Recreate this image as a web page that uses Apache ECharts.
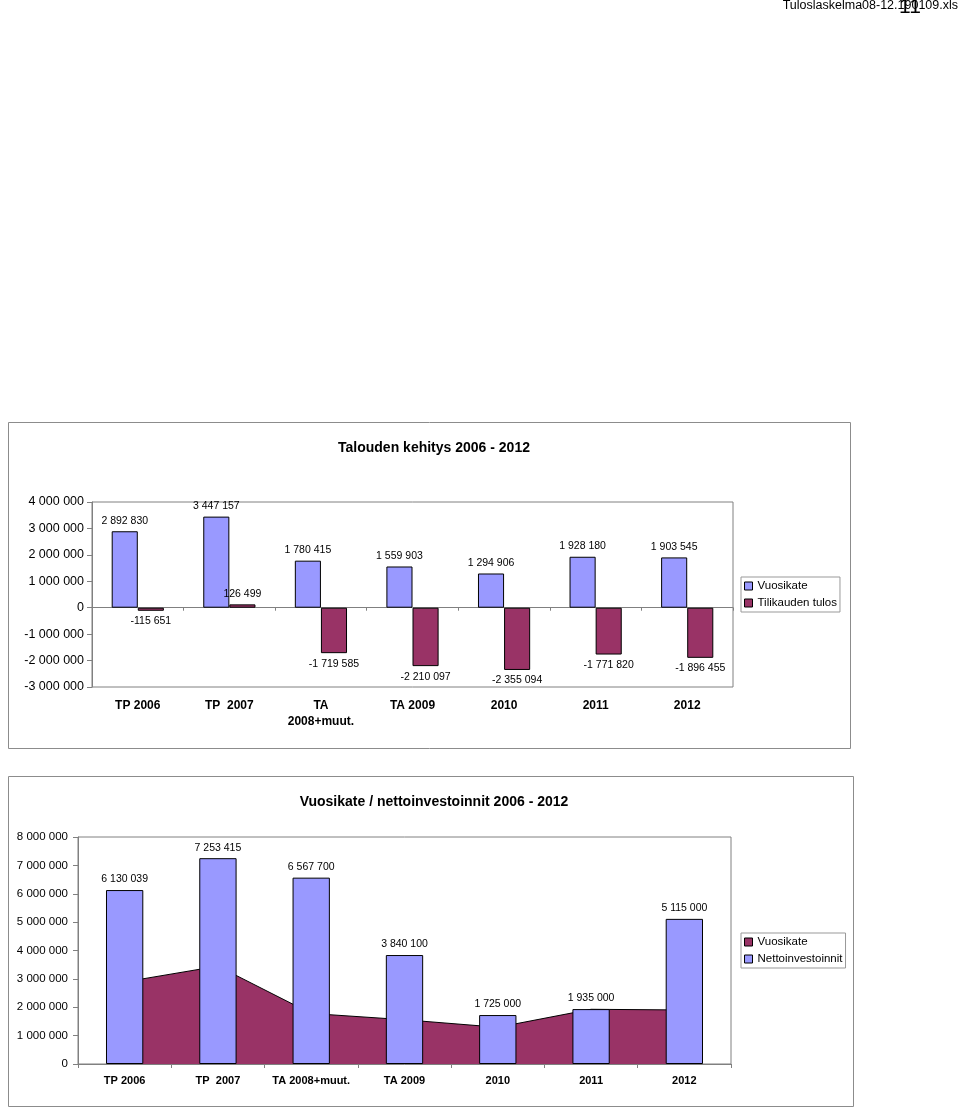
<!DOCTYPE html>
<html><head><meta charset="utf-8">
<script src="https://cdn.jsdelivr.net/npm/echarts@6/dist/echarts.min.js"></script>
<style>html,body{margin:0;padding:0;background:#fff}#c{width:960px;height:1110px}</style>
</head><body><div id="c"></div><script>
const categoriesTop = ['TP 2006', 'TP  2007', 'TA\n2008+muut.', 'TA 2009', '2010', '2011', '2012'];
const categoriesBottom = ['TP 2006', 'TP  2007', 'TA 2008+muut.', 'TA 2009', '2010', '2011', '2012'];
const vuosikate = [2892830, 3447157, 1780415, 1559903, 1294906, 1928180, 1903545];
const tilikaudenTulos = [-115651, 126499, -1719585, -2210097, -2355094, -1771820, -1896455];
const nettoinvestoinnit = [6130039, 7253415, 6567700, 3840100, 1725000, 1935000, 5115000];
const titleTop = 'Talouden kehitys 2006 - 2012';
const titleBottom = 'Vuosikate / nettoinvestoinnit 2006 - 2012';

const FONT = '"Liberation Sans", Arial, sans-serif';
const BLUE = '#9999FF', RED = '#993366', GREY = '#808080';
function fmt(v) {
  const s = Math.abs(Math.round(v)).toString().replace(/\B(?=(\d{3})+(?!\d))/g, ' ');
  return (v < 0 ? '-' : '') + s;
}
const labelBase = { show: true, color: '#000', fontFamily: FONT, fontSize: 10.5, distance: 5, formatter: p => fmt(p.value) };
const legendText = { fontFamily: FONT, fontSize: 11.5, color: '#000', lineHeight: 12 };

const chart = echarts.init(document.getElementById('c'), null, { renderer: 'canvas' });
chart.setOption({
  animation: false,
  backgroundColor: '#fff',
  textStyle: { fontFamily: FONT },
  title: [
    { text: titleTop, left: 429, top: 436, textAlign: 'center', textStyle: { fontFamily: FONT, fontSize: 14, fontWeight: 'bold', color: '#000' } },
    { text: titleBottom, left: 429, top: 790, textAlign: 'center', textStyle: { fontFamily: FONT, fontSize: 14, fontWeight: 'bold', color: '#000' } }
  ],
  legend: [
    {
      orient: 'vertical', left: 741, top: 577, padding: [3, 3, 3, 3], itemGap: 5, itemWidth: 8, itemHeight: 8,
      borderColor: '#999', borderWidth: 1, textStyle: legendText,
      selectedMode: false,
      data: [
        { name: 'Vuosikate', icon: 'rect', itemStyle: { color: BLUE, borderColor: '#000', borderWidth: 1 } },
        { name: 'Tilikauden tulos', icon: 'rect', itemStyle: { color: RED, borderColor: '#000', borderWidth: 1 } }
      ]
    },
    {
      orient: 'vertical', left: 741, top: 933, padding: [3, 3, 3, 3], itemGap: 5, itemWidth: 8, itemHeight: 8,
      borderColor: '#999', borderWidth: 1, textStyle: legendText,
      selectedMode: false,
      data: [
        { name: 'Vuosikate', icon: 'rect', itemStyle: { color: RED, borderColor: '#000', borderWidth: 1 } },
        { name: 'Nettoinvestoinnit', icon: 'rect', itemStyle: { color: BLUE, borderColor: '#000', borderWidth: 1 } }
      ]
    }
  ],
  grid: [
    { left: 92, top: 502, width: 641, height: 185, show: true, borderColor: GREY, borderWidth: 1, containLabel: false },
    { left: 78, top: 837, width: 653, height: 227, show: true, borderColor: GREY, borderWidth: 1, containLabel: false }
  ],
  xAxis: [
    {
      gridIndex: 0, type: 'category', data: categoriesTop, position: 'bottom',
      axisLine: { show: true, onZero: true, lineStyle: { color: GREY, width: 1 } },
      axisTick: { show: true, length: 3, lineStyle: { color: GREY } },
      axisLabel: { show: false }, splitLine: { show: false }
    },
    {
      gridIndex: 0, type: 'category', data: categoriesTop, position: 'bottom',
      axisLine: { show: false, onZero: false }, axisTick: { show: false },
      axisLabel: { show: true, margin: 11, color: '#000', fontFamily: FONT, fontSize: 12, fontWeight: 'bold', lineHeight: 16, interval: 0 },
      splitLine: { show: false }
    },
    {
      gridIndex: 1, type: 'category', data: categoriesBottom, position: 'bottom',
      axisLine: { show: true, onZero: false, lineStyle: { color: GREY, width: 1 } },
      axisTick: { show: true, length: 4, lineStyle: { color: GREY } },
      axisLabel: { show: true, margin: 11, color: '#000', fontFamily: FONT, fontSize: 11, fontWeight: 'bold', interval: 0 },
      splitLine: { show: false }
    }
  ],
  yAxis: [
    {
      gridIndex: 0, type: 'value', min: -3000000, max: 4000000, interval: 1000000,
      axisLine: { show: true, lineStyle: { color: GREY } },
      axisTick: { show: true, length: 5, lineStyle: { color: GREY } },
      axisLabel: { margin: 8, color: '#000', fontFamily: FONT, fontSize: 12.5, formatter: v => fmt(v) },
      splitLine: { show: false }
    },
    {
      gridIndex: 1, type: 'value', min: 0, max: 8000000, interval: 1000000,
      axisLine: { show: true, lineStyle: { color: GREY } },
      axisTick: { show: true, length: 5, lineStyle: { color: GREY } },
      axisLabel: { margin: 10, color: '#000', fontFamily: FONT, fontSize: 11.5, formatter: v => fmt(v) },
      splitLine: { show: false }
    }
  ],
  series: [
    {
      name: 'Vuosikate', type: 'bar', xAxisIndex: 0, yAxisIndex: 0,
      barGap: '0%', barCategoryGap: '43%',
      itemStyle: { color: BLUE, borderColor: '#000', borderWidth: 1 },
      label: Object.assign({}, labelBase, { position: 'top' }),
      data: vuosikate.map(v => ({ value: v, label: { position: v < 0 ? 'bottom' : 'top' } }))
    },
    {
      name: 'Tilikauden tulos', type: 'bar', xAxisIndex: 0, yAxisIndex: 0,
      barGap: '0%', barCategoryGap: '43%',
      itemStyle: { color: RED, borderColor: '#000', borderWidth: 1 },
      label: Object.assign({}, labelBase, { position: 'bottom' }),
      data: tilikaudenTulos.map(v => ({ value: v, label: { position: v < 0 ? 'bottom' : 'top' } }))
    },
    {
      name: 'Vuosikate', type: 'line', xAxisIndex: 2, yAxisIndex: 1, z: 1,
      symbol: 'none', showSymbol: false,
      itemStyle: { color: RED },
      lineStyle: { color: '#000', width: 1 },
      areaStyle: { color: RED, opacity: 1 },
      data: vuosikate
    },
    {
      name: 'Nettoinvestoinnit', type: 'bar', xAxisIndex: 2, yAxisIndex: 1, z: 5,
      barCategoryGap: '60%',
      itemStyle: { color: BLUE, borderColor: '#000', borderWidth: 1 },
      label: Object.assign({}, labelBase, { position: 'top' }),
      data: nettoinvestoinnit
    }
  ],
  graphic: [
    { type: 'rect', silent: true, z: -1, shape: { x: 8.5, y: 422.5, width: 842, height: 326 }, style: { fill: 'none', stroke: '#8c8c8c', lineWidth: 1 } },
    { type: 'rect', silent: true, z: -1, shape: { x: 8.5, y: 776.5, width: 845, height: 330 }, style: { fill: 'none', stroke: '#8c8c8c', lineWidth: 1 } },
    { type: 'text', silent: true, style: { text: 'Tuloslaskelma08-12.190109.xls', x: 958, y: -1, align: 'right', verticalAlign: 'top', font: '12.5px "Liberation Sans", Arial, sans-serif', fill: '#000' } },
    { type: 'text', silent: true, style: { text: '11', x: 910, y: -3, align: 'center', verticalAlign: 'top', font: '21px "Liberation Sans", Arial, sans-serif', fill: '#000' } }
  ]
});
</script></body></html>
